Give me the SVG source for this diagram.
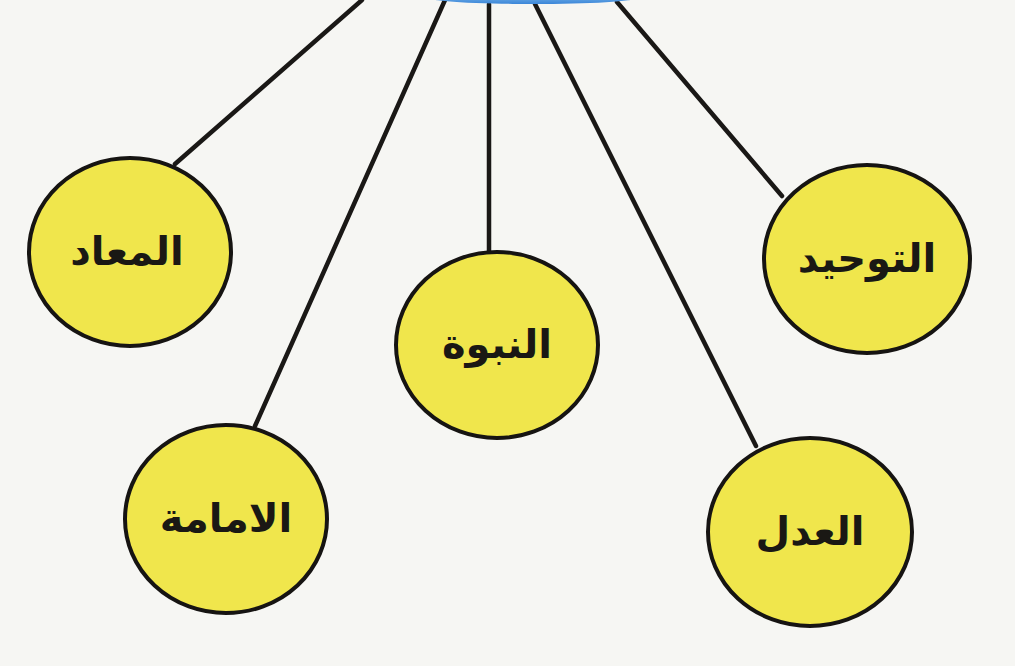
<svg xmlns="http://www.w3.org/2000/svg" width="1015" height="666" viewBox="0 0 1015 666">
<defs>
<style>
.bg{fill:#f6f6f3}
.node circle,.node ellipse{fill:#f0e64c;stroke:#161412;stroke-width:4}
.node text{font-family:"DejaVu Sans",sans-serif;font-weight:bold;font-size:40px;fill:#1a1814;text-anchor:middle;direction:rtl}
.edge{stroke:#1a1816;stroke-width:4.5;fill:none;stroke-linecap:round}
</style>
<linearGradient id="blue" x1="0" y1="0" x2="0" y2="1">
<stop offset="0" stop-color="#8cc4f0"/>
<stop offset="1" stop-color="#3b86d8"/>
</linearGradient>
</defs>
<rect class="bg" x="0" y="0" width="1015" height="666"/>
<g id="connectors">
<line class="edge" x1="362" y1="0" x2="175" y2="164"/>
<line class="edge" x1="445" y1="0" x2="255" y2="426"/>
<line class="edge" x1="489" y1="4" x2="489" y2="254"/>
<line class="edge" x1="535" y1="4" x2="756" y2="446"/>
<line class="edge" x1="617" y1="2" x2="782" y2="196"/>
</g>
<g id="top">
<ellipse cx="533" cy="-2" rx="103" ry="6" fill="url(#blue)"/>
</g>
<g id="node-maad" class="node">
<ellipse cx="130" cy="252" rx="101" ry="94"/>
<text x="127" y="265">المعاد</text>
</g>
<g id="node-nubuwwa" class="node">
<ellipse cx="497" cy="345" rx="101" ry="93"/>
<text x="497" y="358">النبوة</text>
</g>
<g id="node-tawhid" class="node">
<ellipse cx="867" cy="259" rx="103" ry="94"/>
<text x="867" y="272">التوحيد</text>
</g>
<g id="node-imama" class="node">
<ellipse cx="226" cy="519" rx="101" ry="94"/>
<text x="226" y="532">الامامة</text>
</g>
<g id="node-adl" class="node">
<ellipse cx="810" cy="532" rx="102" ry="94"/>
<text x="810" y="545">العدل</text>
</g>
</svg>
